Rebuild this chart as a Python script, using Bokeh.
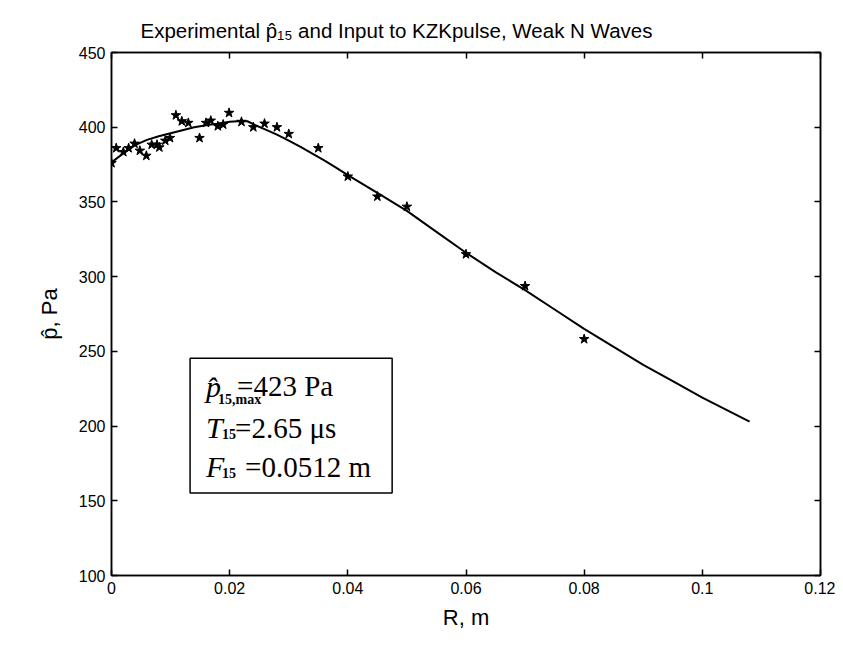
from bokeh.plotting import figure
from bokeh.models import (LinearAxis, Range1d, BoxAnnotation, Label, FixedTicker,
                          NumeralTickFormatter, CustomJSTickFormatter)
from bokeh.embed import file_html
from bokeh.resources import INLINE

# ---------------- data ----------------
title_text = "Experimental p\u0302\u2081\u2085 and Input to KZKpulse, Weak N Waves"
x_label = "R, m"
y_label = "p\u0302, Pa"

x_ticks = [0.0, 0.02, 0.04, 0.06, 0.08, 0.1, 0.12]
x_tick_labels = ["0", "0.02", "0.04", "0.06", "0.08", "0.1", "0.12"]
y_ticks = [100, 150, 200, 250, 300, 350, 400, 450]

# experimental points (stars)
R_exp = [0.0, 0.0008, 0.002, 0.0029, 0.0039, 0.0048, 0.0059, 0.0068, 0.0077, 0.0081,
         0.0091, 0.0099, 0.0109, 0.0119, 0.013, 0.0149, 0.016, 0.0168, 0.018, 0.0189,
         0.0199, 0.022, 0.024, 0.0259, 0.028, 0.030, 0.035, 0.040, 0.045, 0.050,
         0.060, 0.070, 0.080]
p_exp = [376, 386, 383.4, 386, 389, 384.3, 380.9, 388.3, 388.3, 386.5,
         391, 392.8, 408, 404, 402.9, 392.8, 402.9, 404.4, 400.7, 401.8,
         409.6, 403.6, 400, 402.4, 400, 395.5, 386, 367, 353.6, 346.8,
         315, 293.7, 258.2]

# KZKpulse input (solid curve)
R_fit = [0.000, 0.002, 0.004, 0.006, 0.008, 0.010, 0.012, 0.014, 0.016, 0.018,
         0.020, 0.022, 0.023, 0.024, 0.026, 0.028, 0.030, 0.032, 0.034, 0.036,
         0.038, 0.040, 0.045, 0.050, 0.055, 0.060, 0.065, 0.070, 0.075, 0.080,
         0.085, 0.090, 0.095, 0.100, 0.104, 0.108]
p_fit = [376.5, 382.5, 388.0, 391.5, 394.0, 396.0, 398.0, 400.0, 401.3, 402.4,
         403.6, 404.2, 404.0, 402.0, 398.5, 395.0, 391.0, 386.8, 382.3, 377.8,
         373.0, 368.0, 356.0, 344.0, 330.0, 316.0, 303.0, 291.0, 278.0, 265.0,
         253.0, 241.0, 230.0, 219.0, 211.0, 203.0]

# text box content
box_lines = [("p\u0302", "15,max", "=423 Pa"),
             ("T", "15", "=2.65 \u03bcs"),
             ("F", "15", "=0.0512 m")]

# ---------------- figure ----------------
p = figure(width=835, height=632, output_backend="svg", toolbar_location=None,
           x_range=Range1d(0, 0.12), y_range=Range1d(100, 450),
           min_border_left=111, min_border_right=15, min_border_top=52, min_border_bottom=57,
           background_fill_color="white", border_fill_color="white")

p.grid.visible = False
p.outline_line_color = "black"
p.outline_line_width = 1.5

p.title.text = title_text
p.title.text_font = "Liberation Sans"
p.title.text_font_size = "20.5px"
p.title.text_font_style = "normal"
p.title.text_color = "black"
p.title.align = "left"
p.title.offset = 29
p.title.standoff = 21

xa = p.xaxis[0]
ya = p.yaxis[0]
xa.ticker = FixedTicker(ticks=x_ticks)
xa.formatter = NumeralTickFormatter(format="0.[00]")
xa.major_label_overrides = {t: l for t, l in zip(x_ticks, x_tick_labels)}
ya.ticker = FixedTicker(ticks=y_ticks)
xa.axis_label = x_label
ya.axis_label = y_label

for ax in (xa, ya):
    ax.major_tick_in = 6
    ax.major_tick_out = 0
    ax.minor_tick_in = 0
    ax.minor_tick_out = 0
    ax.axis_line_width = 1.5
    ax.axis_line_color = "black"
    ax.major_tick_line_width = 1.5
    ax.major_tick_line_color = "black"
    ax.major_label_text_font = "Liberation Sans"
    ax.major_label_text_font_size = "16px"
    ax.major_label_text_color = "black"
    ax.major_label_standoff = 6
    ax.axis_label_text_font = "Liberation Sans"
    ax.axis_label_text_font_size = "22px"
    ax.axis_label_text_font_style = "normal"
    ax.axis_label_text_color = "black"
xa.axis_label_standoff = 8
ya.axis_label_standoff = 14

blank = CustomJSTickFormatter(code="return ''")
top = LinearAxis(ticker=FixedTicker(ticks=x_ticks), formatter=blank,
                 major_tick_in=6, major_tick_out=0, minor_tick_in=0, minor_tick_out=0,
                 axis_line_width=1.5, major_tick_line_width=1.5, major_label_standoff=0)
right = LinearAxis(ticker=FixedTicker(ticks=y_ticks), formatter=blank,
                   major_tick_in=6, major_tick_out=0, minor_tick_in=0, minor_tick_out=0,
                   axis_line_width=1.5, major_tick_line_width=1.5, major_label_standoff=0)
p.add_layout(top, "above")
p.add_layout(right, "right")

p.line(R_fit, p_fit, line_width=2, line_color="black")
p.scatter(R_exp, p_exp, marker="star", size=10, fill_color="black", line_color="black")

# parameter box
p.add_layout(BoxAnnotation(left=0.0133, right=0.0475, bottom=155.2, top=245.4,
                           fill_color="white", fill_alpha=1.0,
                           line_color="black", line_width=1.5, line_alpha=1.0))

base_x = 0.016
base_y = [226.6, 199.0, 172.7]
sub_size = ["14px", "14px", "14px"]
sub_dx = [12, 16, 16]
sub_dy = [-13, -6, -6]
rest_dx = [31, 29, 39]
for (main, sub, rest), by, ss, sdx, sdy, rdx in zip(box_lines, base_y, sub_size, sub_dx, sub_dy, rest_dx):
    p.add_layout(Label(x=base_x, y=by, text=main, text_font="Liberation Serif",
                       text_font_style="italic", text_font_size="30px",
                       text_baseline="alphabetic", text_color="black"))
    p.add_layout(Label(x=base_x, y=by, x_offset=sdx, y_offset=sdy, text=sub,
                       text_font="Liberation Serif", text_font_style="bold",
                       text_font_size=ss, text_baseline="alphabetic", text_color="black"))
    p.add_layout(Label(x=base_x, y=by, x_offset=rdx, text=rest, text_font="Liberation Serif",
                       text_font_size="29px", text_baseline="alphabetic", text_color="black"))

open("out.html", "w").write(file_html(p, INLINE))
